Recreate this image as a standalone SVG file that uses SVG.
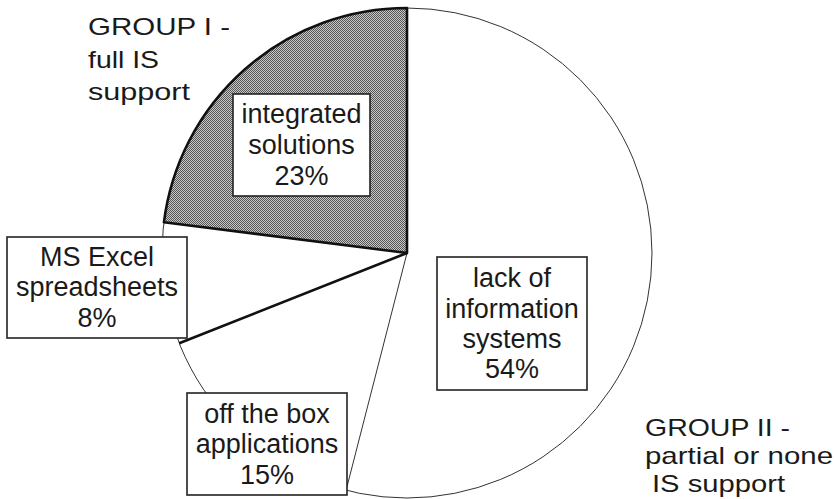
<svg xmlns="http://www.w3.org/2000/svg" width="835" height="499" viewBox="0 0 835 499">
<style>
text{font-family:"Liberation Sans",Arial,sans-serif;font-size:27px;fill:#1a1a1a}
.c{text-anchor:middle}
.g{font-size:24px}
.box{fill:#fff;stroke:#222;stroke-width:1.6}
.thin{fill:none;stroke:#333;stroke-width:1}
.thick{fill:none;stroke:#111;stroke-width:2.6;stroke-linejoin:round}
</style>
<defs>
<pattern id="dots" width="2" height="2" patternUnits="userSpaceOnUse">
<rect width="2" height="2" fill="#c8c8c8"/>
<rect width="1" height="1" fill="#555"/>
<rect x="1" y="1" width="1" height="1" fill="#555"/>
</pattern>
</defs>
<g id="pie">
<circle cx="407" cy="253" r="245" fill="#fff" stroke="#333" stroke-width="1"/>
</g>
<g id="connectors">
<line class="thin" x1="407" y1="253" x2="346.07" y2="490.3"/>
</g>
<g id="slice-integrated">
<path d="M407,253 L407,8 A245,245 0 0,0 163.93,222.29 Z" fill="url(#dots)" stroke="#111" stroke-width="2.6" stroke-linejoin="round"/>
</g>
<g id="slice-excel">
<line class="thick" x1="407" y1="253" x2="179.2" y2="343.19"/>
</g>
<g id="label-integrated">
<rect class="box" x="233" y="94" width="137" height="102"/>
<text class="c" x="301.5" y="123">integrated</text>
<text class="c" x="301.5" y="154">solutions</text>
<text class="c" x="301.5" y="185">23%</text>
</g>
<g id="label-excel">
<rect class="box" x="7" y="237" width="180" height="101"/>
<text class="c" x="97" y="266">MS Excel</text>
<text class="c" x="97" y="296">spreadsheets</text>
<text class="c" x="97" y="327">8%</text>
</g>
<g id="label-offbox">
<rect class="box" x="187" y="393" width="160" height="102"/>
<text class="c" x="267" y="423">off the box</text>
<text class="c" x="267" y="453">applications</text>
<text class="c" x="267" y="484">15%</text>
</g>
<g id="label-lack">
<rect class="box" x="437" y="257" width="150" height="133"/>
<text class="c" x="512" y="287">lack of</text>
<text class="c" x="512" y="318">information</text>
<text class="c" x="512" y="348">systems</text>
<text class="c" x="512" y="378">54%</text>
</g>
<g id="group1">
<text class="g" x="88" y="35" textLength="142" lengthAdjust="spacingAndGlyphs">GROUP I -</text>
<text class="g" x="88" y="68" textLength="71" lengthAdjust="spacingAndGlyphs">full IS</text>
<text class="g" x="88" y="100" textLength="102" lengthAdjust="spacingAndGlyphs">support</text>
</g>
<g id="group2">
<text class="g" x="645" y="436" textLength="145" lengthAdjust="spacingAndGlyphs">GROUP II -</text>
<text class="g" x="645" y="464" textLength="188" lengthAdjust="spacingAndGlyphs">partial or none</text>
<text class="g" x="652" y="492" textLength="133" lengthAdjust="spacingAndGlyphs">IS support</text>
</g>
</svg>
